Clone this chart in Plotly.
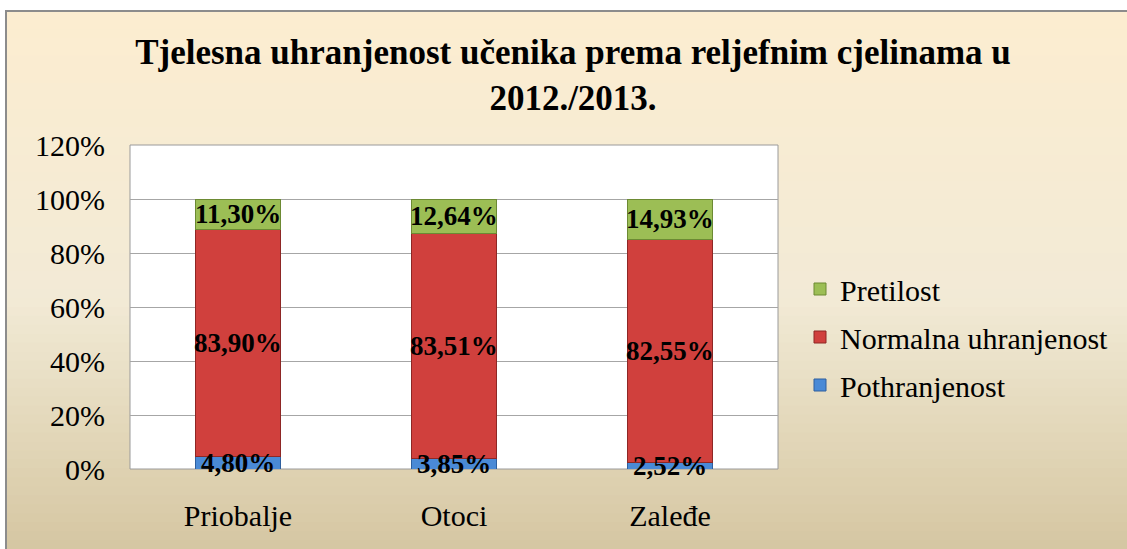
import plotly.graph_objects as go

categories = ["Priobalje", "Otoci", "Zaleđe"]
pothranjenost = [4.80, 3.85, 2.52]
normalna = [83.90, 83.51, 82.55]
pretilost = [11.30, 12.64, 14.93]
series_names = ["Pothranjenost", "Normalna uhranjenost", "Pretilost"]
y_ticks = [0, 20, 40, 60, 80, 100, 120]
y_tick_labels = ["0%", "20%", "40%", "60%", "80%", "100%", "120%"]

W, H = 1127, 549
L, R, T, B = 130, 778, 145, 469  # plot area in pixels

def px(x):
    return (x - L) / (R - L)

def py(y):
    return (B - y) / (B - T)

FONT = "Liberation Serif"

fig = go.Figure()
series = [pothranjenost, normalna, pretilost]
colors = ["#4A8AD6", "#D0403D", "#9CBE55"]
edges = ["#2E5F9E", "#8E2725", "#6C8A33"]
ranks = [3, 2, 1]
for i, (name, vals) in enumerate(zip(series_names, series)):
    fig.add_trace(go.Bar(
        x=categories, y=vals, name=name,
        marker=dict(color=colors[i], line=dict(color=edges[i], width=1)),
        legendgroup=name, legendrank=ranks[i],
    ))

annotations = []
for ci, cat in enumerate(categories):
    base = 0
    for vals in series:
        v = vals[ci]
        annotations.append(dict(
            x=cat, y=base + v / 2, xref="x", yref="y",
            text=f"{v:.2f}%".replace(".", ","), showarrow=False,
            font=dict(family=FONT, size=27, color="black", weight="bold"),
        ))
        base += v

def hexrgb(h):
    h = h.lstrip("#")
    return tuple(int(h[i:i + 2], 16) for i in (0, 2, 4))

stops = [(11, "#FCEDD0"), (300, "#F2EAD6"), (400, "#E6DCC0"), (549, "#D5C6A2")]
shapes = []
n = 60
top, bot = 11, 549
for k in range(n):
    y0 = top + (bot - top) * k / n
    y1 = top + (bot - top) * (k + 1) / n + 1
    ym = (y0 + y1) / 2
    for j in range(len(stops) - 1):
        if stops[j][0] <= ym <= stops[j + 1][0] or j == len(stops) - 2:
            a, ca = stops[j]
            b, cb = stops[j + 1]
            break
    t = min(max((ym - a) / (b - a), 0), 1)
    c1, c2 = hexrgb(ca), hexrgb(cb)
    c = tuple(round(c1[q] + (c2[q] - c1[q]) * t) for q in range(3))
    shapes.append(dict(type="rect", xref="paper", yref="paper",
                       x0=px(7), x1=px(W + 5), y0=py(y1), y1=py(y0),
                       fillcolor="rgb(%d,%d,%d)" % c, line=dict(width=0), layer="below"))
shapes.append(dict(type="rect", xref="paper", yref="paper", x0=0, x1=1, y0=0, y1=1,
                   fillcolor="white", line=dict(color="#9A9A9A", width=1), layer="below"))
shapes.append(dict(type="rect", xref="paper", yref="paper",
                   x0=px(6), x1=px(W + 5), y0=py(H + 5), y1=py(11),
                   fillcolor="rgba(0,0,0,0)", line=dict(color="#8C8C8C", width=2), layer="below"))

fig.update_layout(
    width=W, height=H,
    margin=dict(l=L, r=W - R, t=T, b=H - B),
    paper_bgcolor="white", plot_bgcolor="white",
    barmode="stack", bargap=0.606,
    font=dict(family=FONT, size=30, color="black"),
    title=dict(text="Tjelesna uhranjenost učenika prema reljefnim cjelinama u<br>2012./2013.",
               x=573 / W, xanchor="center", xref="container",
               y=1 - 64 / H, yanchor="top", yref="container",
               font=dict(family=FONT, size=35, color="black", weight="bold")),
    xaxis=dict(showgrid=False, ticks="", ticklabelstandoff=26, showline=False,
               tickfont=dict(family=FONT, size=30)),
    yaxis=dict(range=[0, 120], tickvals=y_ticks, ticktext=y_tick_labels, showgrid=True,
               gridcolor="#A6A6A6", gridwidth=1, zeroline=False, ticks="",
               ticklabelstandoff=24, showline=False,
               tickfont=dict(family=FONT, size=30)),
    legend=dict(x=px(800), xanchor="left", y=py(337), yanchor="middle",
                traceorder="grouped", tracegroupgap=6, bgcolor="rgba(0,0,0,0)",
                font=dict(family=FONT, size=30)),
    annotations=annotations,
    shapes=shapes,
)

fig.write_html("out.html")
